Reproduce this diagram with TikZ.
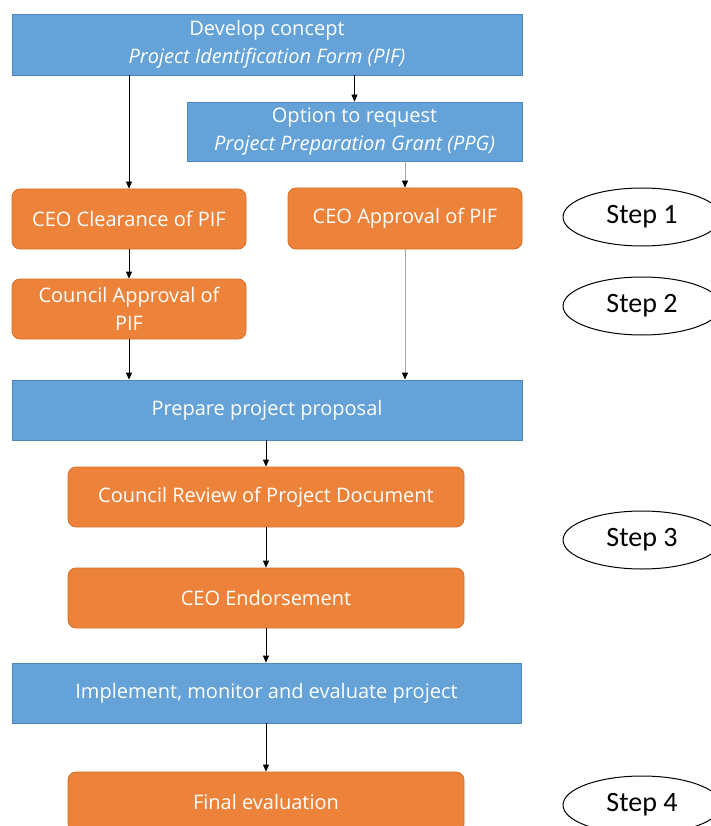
\documentclass[tikz,border=0pt]{standalone}
\usepackage{fontspec}
\setmainfont{Open Sans}
\newfontfamily\stepfont{Carlito}
\usetikzlibrary{arrows.meta,shapes.geometric}
\definecolor{boxblue}{HTML}{64A2D7}
\definecolor{boxblueline}{HTML}{4F86BD}
\definecolor{boxorange}{HTML}{ED833A}
\definecolor{boxorangeline}{HTML}{D7702A}
\definecolor{linegray}{HTML}{A6A6A6}
\begin{document}
\begin{tikzpicture}[x=1pt,y=-1pt,
  boxtext/.style={text=white, align=center, inner sep=0pt, font=\fontsize{20}{28}\selectfont},
  bluebox/.style={rectangle, boxtext, fill=boxblue, draw=boxblueline, line width=0.8pt},
  orangebox/.style={rectangle, boxtext, rounded corners=8pt, fill=boxorange, draw=boxorangeline, line width=0.8pt},
  stepel/.style={ellipse, draw=black, line width=1pt, fill=white, minimum width=158pt, minimum height=58pt, inner sep=0pt, font=\stepfont\fontsize{28}{30}\selectfont},
  conn/.style={draw=black, line width=0.8pt, -{Triangle[width=6pt,length=7pt]}},
  gconn/.style={draw=linegray, line width=0.8pt, -{Triangle[width=6pt,length=7pt,color=black]}}]
\useasboundingbox (0,0) rectangle (711,826);
\fill[white] (0,0) rectangle (711,826);
\clip (0,0) rectangle (711,826);

\node[bluebox, minimum width=510pt, minimum height=61pt] (top) at (267,44.5)
  {Develop concept\\\itshape Project Identification Form (PIF)};
\node[bluebox, minimum width=335pt, minimum height=59pt] (opt) at (354.5,131.5)
  {Option to request\\\itshape Project Preparation Grant (PPG)};
\node[orangebox, minimum width=234pt, minimum height=60pt] (clr) at (129,219)
  {CEO Clearance of PIF};
\node[orangebox, minimum width=234pt, minimum height=61pt] (apv) at (405,218.5)
  {CEO Approval of PIF};
\node[orangebox, minimum width=234pt, minimum height=60pt] (cap) at (129,309)
  {Council Approval of\\PIF};
\node[bluebox, minimum width=510pt, minimum height=60pt] (prep) at (267,410)
  {Prepare project proposal};
\node[orangebox, minimum width=396pt, minimum height=60pt] (rev) at (266,497)
  {Council Review of Project Document};
\node[orangebox, minimum width=396pt, minimum height=60pt] (endo) at (266,598)
  {CEO Endorsement};
\node[bluebox, minimum width=509pt, minimum height=60pt] (impl) at (266.5,693)
  {Implement, monitor and evaluate project};
\node[orangebox, minimum width=396pt, minimum height=60pt] (fin) at (266,802)
  {Final evaluation};

\node[stepel] (s1) at (642,217) {Step 1};
\node[stepel] (s2) at (642,306) {Step 2};
\node[stepel] (s3) at (642,540) {Step 3};
\node[stepel] (s4) at (642,805) {Step 4};

\draw[conn] (top.south -| opt.north) -- (opt.north);
\draw[conn] (top.south -| clr.north) -- (clr.north);
\draw[gconn] (opt.south -| apv.north) -- (apv.north);
\draw[conn] (clr.south) -- (cap.north);
\draw[conn] (cap.south) -- (cap.south |- prep.north);
\draw[gconn] (apv.south) -- (apv.south |- prep.north);
\draw[conn] (prep.south -| rev.north) -- (rev.north);
\draw[conn] (rev.south) -- (endo.north);
\draw[conn] (endo.south) -- (endo.south |- impl.north);
\draw[conn] (impl.south -| fin.north) -- (fin.north);
\end{tikzpicture}
\end{document}
